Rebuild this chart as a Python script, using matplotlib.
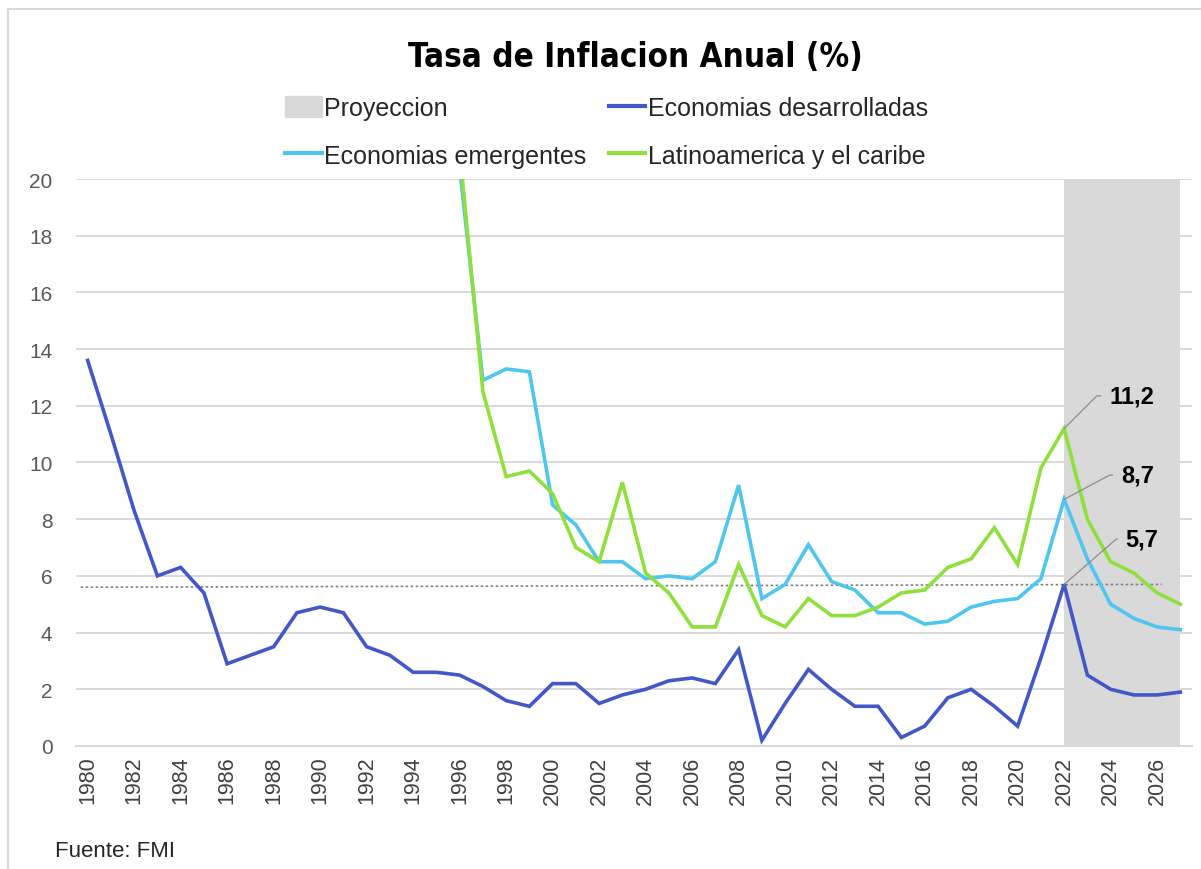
import matplotlib
matplotlib.use("Agg")
import matplotlib.pyplot as plt
from matplotlib import font_manager
from matplotlib.font_manager import FontProperties
from matplotlib.lines import Line2D
from matplotlib.patches import Patch
import numpy as np

# datos (FMI), 1980-2027
years = list(range(1980, 2028))

desarrolladas = [13.6, 11.0, 8.3, 6.0, 6.3, 5.4, 2.9, 3.2, 3.5, 4.7,
                 4.9, 4.7, 3.5, 3.2, 2.6, 2.6, 2.5, 2.1, 1.6, 1.4,
                 2.2, 2.2, 1.5, 1.8, 2.0, 2.3, 2.4, 2.2, 3.4, 0.2,
                 1.5, 2.7, 2.0, 1.4, 1.4, 0.3, 0.7, 1.7, 2.0, 1.4,
                 0.7, 3.1, 5.7, 2.5, 2.0, 1.8, 1.8, 1.9]

emergentes = [None] * 16 + [20.4, 12.9, 13.3, 13.2,
              8.5, 7.8, 6.5, 6.5, 5.9, 6.0, 5.9, 6.5, 9.2, 5.2,
              5.7, 7.1, 5.8, 5.5, 4.7, 4.7, 4.3, 4.4, 4.9, 5.1,
              5.2, 5.9, 8.7, 6.6, 5.0, 4.5, 4.2, 4.1]

latam = [None] * 16 + [21.0, 12.5, 9.5, 9.7,
         8.9, 7.0, 6.5, 9.3, 6.1, 5.4, 4.2, 4.2, 6.4, 4.6,
         4.2, 5.2, 4.6, 4.6, 4.9, 5.4, 5.5, 6.3, 6.6, 7.7,
         6.4, 9.8, 11.2, 8.0, 6.5, 6.1, 5.4, 5.0]

proyeccion = (2022, 2027)
linea_ref_x = [1979.7, 2026.2]
linea_ref_y = [5.6, 5.7]

# etiquetas del 2022
etiquetas = [("11,2", 11.2, 2023.94, 12.35, 45),
             ("8,7", 8.7, 2024.44, 9.55, 28),
             ("5,7", 5.7, 2024.65, 7.3, 41)]

c_des = "#4457c6"
c_emer = "#4fc6ef"
c_lat = "#8fe03c"
c_proy = "#d9d9d9"

fonts = font_manager.fontManager.ttflist
names = {f.name for f in fonts}
base = "Liberation Sans" if "Liberation Sans" in names else "DejaVu Sans"
plt.rcParams["font.family"] = base


def weight_num(w):
    if isinstance(w, int):
        return w
    return font_manager.weight_dict.get(w, 400)


# fuente angosta y gruesa para el titulo, si hay alguna
title_prop = FontProperties(family=base, weight="bold")
best = None
for f in fonts:
    angosta = ("Narrow" in f.name or "Condensed" in f.name
               or f.stretch in ("condensed", "semi-condensed", "extra-condensed"))
    if angosta and f.style == "normal":
        w = weight_num(f.weight)
        if best is None or abs(w - 750) < abs(weight_num(best.weight) - 750):
            best = f
if best is not None and weight_num(best.weight) >= 600:
    title_prop = FontProperties(fname=best.fname)


def to_arr(v):
    return np.array([np.nan if x is None else x for x in v], dtype=float)


fig = plt.figure(figsize=(12.01, 8.70), dpi=100)
ax = fig.add_axes([0.0633, 0.1414, 0.9292, 0.6517])

ax.axvspan(proyeccion[0], proyeccion[1], color=c_proy, lw=0, zorder=1)
ax.plot(linea_ref_x, linea_ref_y, color="#808080", lw=1.2, ls=(0, (1.5, 1.5)), zorder=2)

ax.plot(years, to_arr(desarrolladas), color=c_des, lw=2.6, zorder=3,
        solid_joinstyle="miter")
ax.plot(years, to_arr(emergentes), color=c_emer, lw=2.6, zorder=3,
        solid_joinstyle="miter")
ax.plot(years, to_arr(latam), color=c_lat, lw=2.6, zorder=4,
        solid_joinstyle="miter")

for txt, val, tx, ty, ang in etiquetas:
    ax.annotate(txt, xy=(2022, val), xytext=(tx, ty), ha="left", va="center",
                fontsize=17, fontweight="bold", color="black", zorder=6,
                arrowprops=dict(arrowstyle="-", color="#8c8c8c", lw=0.9,
                                shrinkA=4, shrinkB=0,
                                connectionstyle="angle,angleA=0,angleB=%d,rad=0" % ang))

ax.set_xlim(1979.5, 2027.5)
ax.set_ylim(0, 20)
ax.set_yticks(range(0, 21, 2))
ax.set_xticks(range(1980, 2027, 2))
ax.set_xticklabels([str(y) for y in range(1980, 2027, 2)], rotation=90)
ax.tick_params(axis="y", length=0, pad=17, labelsize=15, labelcolor="#595959")
ax.tick_params(axis="x", length=0, pad=7, labelsize=15.5, labelcolor="#404040")
ax.grid(axis="y", color="#d9d9d9", lw=1.4, zorder=0)
ax.set_axisbelow(True)
for s in ["top", "right", "left"]:
    ax.spines[s].set_visible(False)
ax.spines["bottom"].set_color("#d9d9d9")
ax.spines["bottom"].set_linewidth(1.4)

title_prop.set_size(30)
title = fig.text(0.529, 0.934, "Tasa de Inflacion Anual (%)", ha="center", va="center",
                 fontproperties=title_prop)
# ajustar el ancho del titulo al del original (~452 px)
fig.canvas.draw()
w = title.get_window_extent().width
if w > 455:
    title.set_fontsize(30 * 452 / w)

handles = [Patch(color=c_proy), Line2D([], [], color=c_emer, lw=3),
           Line2D([], [], color=c_des, lw=3), Line2D([], [], color=c_lat, lw=3)]
labels = ["Proyeccion", "Economias emergentes", "Economias desarrolladas",
          "Latinoamerica y el caribe"]
fig.legend(handles, labels, loc="center", bbox_to_anchor=(0.505, 0.847), ncol=2,
           frameon=False, fontsize=18, handlelength=1.45, handletextpad=0.1,
           columnspacing=0.9, labelspacing=0.95, handleheight=0.9,
           labelcolor="#262626")

fig.text(55 / 1201, 1 - 852 / 870, "Fuente: FMI", ha="left", va="center",
         fontsize=16, color="#262626")

# borde del grafico
fig.add_artist(Line2D([8 / 1201, 8 / 1201], [0, 1 - 10 / 870],
                      transform=fig.transFigure, color="#d9d9d9", lw=1.5))
fig.add_artist(Line2D([8 / 1201, 1], [1 - 10 / 870, 1 - 10 / 870],
                      transform=fig.transFigure, color="#d9d9d9", lw=1.5))

fig.savefig("out.png", dpi=100)
